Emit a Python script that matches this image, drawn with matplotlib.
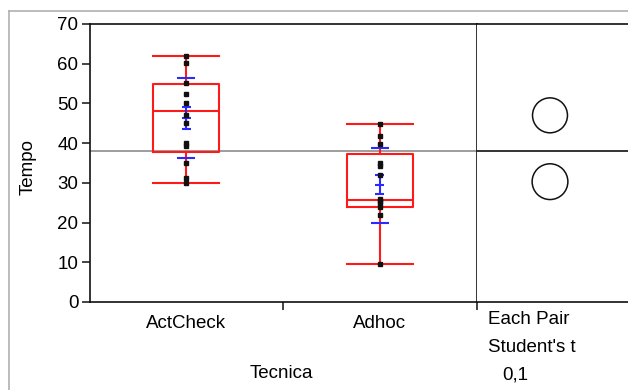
import matplotlib
matplotlib.use("Agg")
import matplotlib.pyplot as plt
from matplotlib.lines import Line2D
from matplotlib.patches import Circle

plt.rcParams['font.family'] = ['Liberation Sans', 'DejaVu Sans']

# ---- data ----
categories = ["ActCheck", "Adhoc"]
points_actcheck = [62.0, 60.3, 55.2, 52.3, 50.1, 47.0, 45.1, 40.1, 39.2, 35.0, 31.2, 30.0]
points_adhoc = [44.7, 41.9, 39.9, 34.9, 34.2, 32.1, 26.0, 25.5, 25.0, 24.0, 22.0, 9.6]
q1 = [37.8, 24.0]
median = [48.2, 25.7]
q3 = [54.9, 37.3]
whisker_lo = [29.9, 9.6]
whisker_hi = [62.0, 44.7]
means = [46.3, 29.5]
sd_lo = [36.2, 19.8]
sd_hi = [56.5, 38.9]
ci_lo = [43.6, 27.1]
ci_hi = [49.0, 32.0]
grand_mean = 38.0
circle_centers = [47.0, 30.3]
circle_radii = [4.4, 4.5]
yticks = [0, 10, 20, 30, 40, 50, 60, 70]
side_texts = ["Each Pair", "Student's t", "0,1"]

W, H = 628, 390
def fx(px): return px / W
def fy(py): return 1 - py / H

fig = plt.figure(figsize=(W / 100, H / 100), dpi=100)
FS = 13.5

# main axes
ax = fig.add_axes([fx(89.5), fy(302), (476.5 - 89.5) / W, (302 - 24) / H])
ax.set_ylim(0, 70)
ax.set_xlim(-0.5, 1.5)
for s in ax.spines.values():
    s.set_color('#111111')
    s.set_linewidth(1.2)

ax.axhline(grand_mean, color='#8c8c8c', lw=1.2, zorder=1)

stats = []
for i in range(len(categories)):
    stats.append(dict(med=median[i], q1=q1[i], q3=q3[i],
                      whislo=whisker_lo[i], whishi=whisker_hi[i], fliers=[]))
red = '#ff1a1a'
ax.bxp(stats, positions=[0, 1], widths=0.34, capwidths=0.34, showfliers=False,
       boxprops=dict(color=red, lw=1.5), whiskerprops=dict(color=red, lw=1.5),
       capprops=dict(color=red, lw=1.5), medianprops=dict(color=red, lw=1.5),
       zorder=2, manage_ticks=False)

blue = '#2a2aff'
pos = [0, 1]
ax.hlines(sd_lo, [p - 0.047 for p in pos], [p + 0.047 for p in pos], color=blue, lw=1.5, zorder=3)
ax.hlines(sd_hi, [p - 0.047 for p in pos], [p + 0.047 for p in pos], color=blue, lw=1.5, zorder=3)
ax.vlines(pos, ci_lo, ci_hi, color=blue, lw=1.5, zorder=3)
for arr in (ci_lo, means, ci_hi):
    ax.hlines(arr, [p - 0.024 for p in pos], [p + 0.024 for p in pos], color=blue, lw=1.5, zorder=3)

for i, pts in enumerate([points_actcheck, points_adhoc]):
    ax.plot([pos[i]] * len(pts), pts, ls='none', marker='s', ms=2.4,
            color='#111111', zorder=4)

ax.set_yticks(yticks)
ax.set_yticklabels([str(t) for t in yticks])
ax.tick_params(axis='y', length=6, width=1.1, pad=2, labelsize=FS, color='#111111')
ax.set_xticks([0.5, 1.5])
ax.set_xticklabels(['', ''])
ax.tick_params(axis='x', which='major', length=6, width=1.1, color='#111111')
ax.set_xticks([0, 1], minor=True)
ax.set_xticklabels(categories, minor=True)
ax.tick_params(axis='x', which='minor', length=0, pad=9, labelsize=FS)

ax.set_xlabel("Tecnica", fontsize=FS)
ax.xaxis.set_label_coords(0.497, -0.225)
fig.text(fx(28.5), fy(167), "Tempo", rotation=90, ha='center', va='center', fontsize=FS)

# comparison circles panel
axr = fig.add_axes([fx(476.5), fy(302), (628 - 476.5) / W, (302 - 24) / H])
axr.set_ylim(0, 70)
axr.set_xlim(0, (628 - 476.5) / (278 / 70))
axr.set_xticks([])
axr.set_yticks([])
for k in ('left', 'right'):
    axr.spines[k].set_visible(False)
for k in ('top', 'bottom'):
    axr.spines[k].set_color('#111111')
    axr.spines[k].set_linewidth(1.2)
axr.axhline(grand_mean, color='#111111', lw=1.2)
cx = (550 - 476.5) / (278 / 70)
for c, r in zip(circle_centers, circle_radii):
    axr.add_patch(Circle((cx, c), r, fill=False, ec='#111111', lw=1.1))

fig.text(fx(488), fy(320), side_texts[0], ha='left', va='center', fontsize=FS)
fig.text(fx(488), fy(348), side_texts[1], ha='left', va='center', fontsize=FS)
fig.text(fx(502), fy(375), side_texts[2], ha='left', va='center', fontsize=FS)

# outer light grey frame
fig.add_artist(Line2D([fx(9), fx(9)], [fy(11), 0], color='#b0b0b0', lw=1.2))
fig.add_artist(Line2D([fx(9), 1], [fy(11), fy(11)], color='#b0b0b0', lw=1.2))

fig.savefig("out.png", dpi=100)
